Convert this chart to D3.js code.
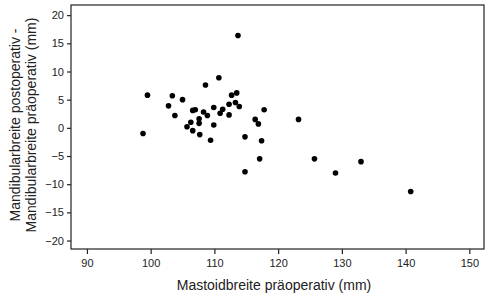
<!DOCTYPE html>
<html>
<head>
<meta charset="utf-8">
<script src="https://cdn.jsdelivr.net/npm/d3@7"></script>
<style>
  body { margin: 0; background: #fff; }
  svg text { font-family: Arial, "Liberation Sans", sans-serif; }
</style>
</head>
<body>
<div id="chart"></div>
<script>
// Mastoidbreite präoperativ (mm)
const mastoid = [98.8, 99.5, 102.8, 103.4, 103.8, 105.0, 105.7, 106.3, 106.6, 106.6,
    107.0, 107.6, 107.6, 107.7, 108.3, 108.6, 108.9, 109.4, 109.9, 109.9,
    110.7, 110.9, 111.3, 112.3, 112.3, 112.7, 113.3, 113.5, 113.7, 113.9,
    114.8, 114.8, 116.4, 116.9, 117.1, 117.4, 117.8, 123.2, 125.7, 129.0,
    133.0, 140.8];
// Mandibularbreite postoperativ - präoperativ (mm)
const diff = [-1.0, 5.8, 3.9, 5.7, 2.2, 5.0, 0.2, 1.0, -0.5, 3.1,
    3.2, 1.6, 0.8, -1.2, 2.8, 7.6, 2.2, -2.2, 3.6, 0.5,
    8.9, 2.6, 3.3, 4.2, 2.3, 5.8, 4.5, 6.2, 16.4, 3.8,
    -1.6, -7.8, 1.5, 0.7, -5.5, -2.3, 3.2, 1.5, -5.5, -8.0,
    -6.0, -11.3];
const xTicks = [90, 100, 110, 120, 130, 140, 150];
const yTicks = [20, 15, 10, 5, 0, -5, -10, -15, -20];

const width = 488, height = 298;
const margin = { top: 5, right: 4, bottom: 49, left: 71 };

const svg = d3.select("#chart")
    .append("svg")
    .attr("width", width)
    .attr("height", height);

const x = d3.scaleLinear()
    .domain([87.5, 152.3])
    .range([margin.left, width - margin.right]);

const y = d3.scaleLinear()
    .domain([-21.5, 21.8])
    .range([height - margin.bottom, margin.top]);

// frame
svg.append("rect")
    .attr("x", margin.left)
    .attr("y", margin.top)
    .attr("width", width - margin.left - margin.right)
    .attr("height", height - margin.top - margin.bottom)
    .attr("fill", "none")
    .attr("stroke", "#222")
    .attr("stroke-width", 1.2);

// axes
const xAxis = svg.append("g")
    .attr("transform", `translate(0,${height - margin.bottom})`)
    .call(d3.axisBottom(x).tickValues(xTicks).tickSize(5).tickPadding(5));

const yAxis = svg.append("g")
    .attr("transform", `translate(${margin.left},0)`)
    .call(d3.axisLeft(y).tickValues(yTicks).tickSize(4).tickPadding(3));

[xAxis, yAxis].forEach(g => {
    g.select(".domain").remove();
    g.selectAll("line").attr("stroke", "#222").attr("stroke-width", 1.2);
    g.selectAll("text").attr("font-size", 11).attr("fill", "#222")
        .attr("font-family", "Arial, 'Liberation Sans', sans-serif");
});

// points
svg.selectAll("circle.pt")
    .data(mastoid)
    .enter()
    .append("circle")
    .attr("class", "pt")
    .attr("cx", d => x(d))
    .attr("cy", (d, i) => y(diff[i]))
    .attr("r", 2.8)
    .attr("fill", "#000");

// axis titles
svg.append("text")
    .attr("x", 274)
    .attr("y", 290)
    .attr("text-anchor", "middle")
    .attr("font-size", 14)
    .attr("fill", "#222")
    .text("Mastoidbreite präoperativ (mm)");

const yTitle = svg.append("text")
    .attr("transform", "translate(20,125) rotate(-90)")
    .attr("text-anchor", "middle")
    .attr("font-size", 14)
    .attr("fill", "#222");
yTitle.append("tspan").attr("x", 0).attr("dy", 0).text("Mandibularbreite postoperativ -");
yTitle.append("tspan").attr("x", 0).attr("dy", 15.5).text("Mandibularbreite präoperativ (mm)");
</script>
</body>
</html>
